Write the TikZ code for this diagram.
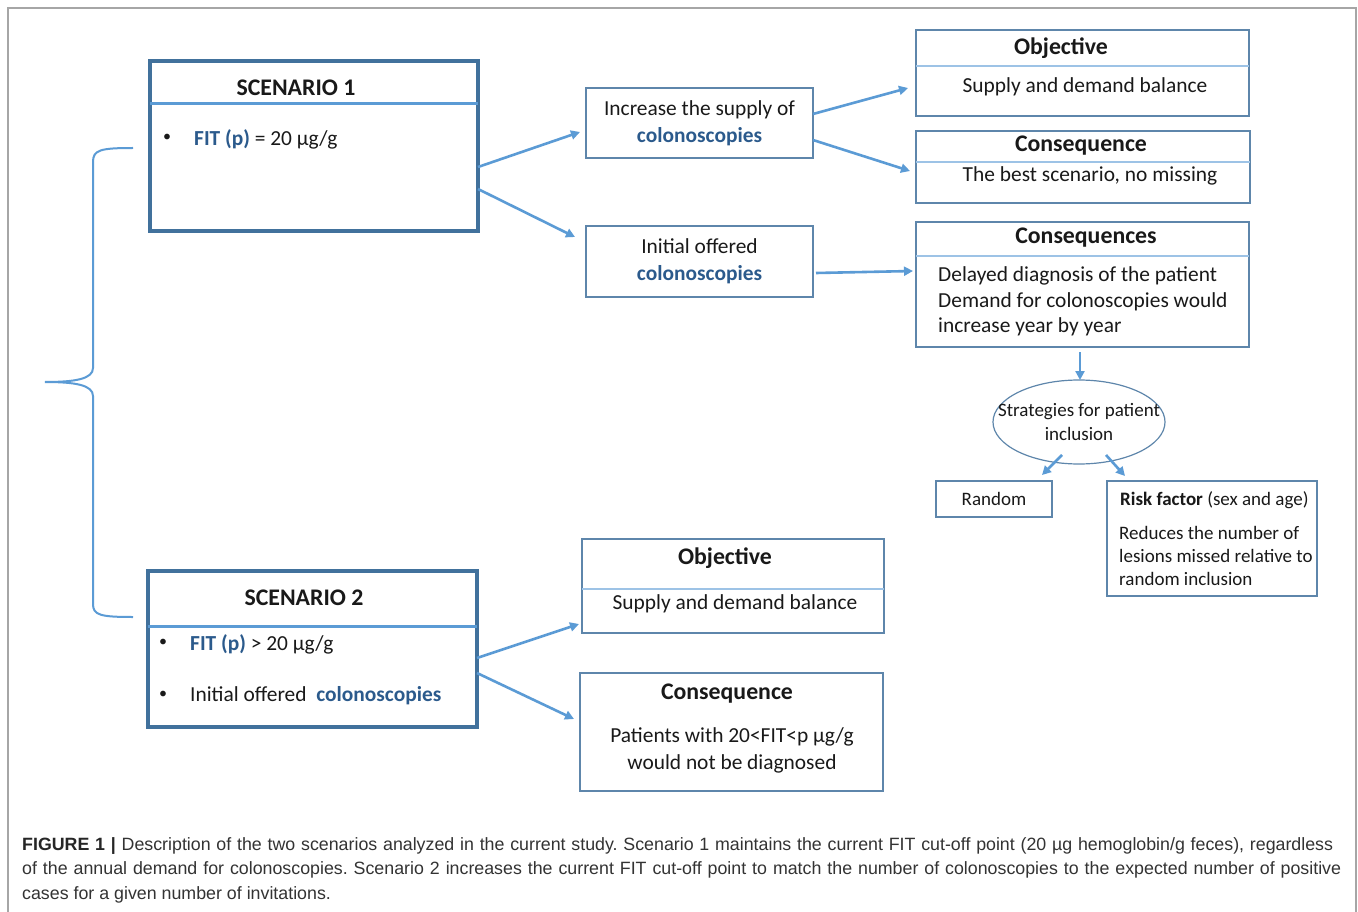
\documentclass[tikz,border=0pt]{standalone}
\usepackage{fontspec}
\setmainfont{Carlito}
\newfontfamily\capfont{Liberation Sans}
\usetikzlibrary{shapes.geometric,arrows.meta,calc}
\definecolor{dkblue}{HTML}{41719C}
\definecolor{ltblue}{HTML}{5B9BD5}
\definecolor{txtblue}{HTML}{2B5A8C}
\definecolor{sepblue}{HTML}{9DC3E6}
\definecolor{capgray}{HTML}{333333}
\frenchspacing
\begin{document}
\begin{tikzpicture}[x=1pt,y=-1pt,
  scen/.style={draw=dkblue, line width=3.5pt, anchor=north west, inner sep=0, outer sep=0},
  tbox/.style={draw=dkblue!85, line width=1.2pt, anchor=north west, inner sep=0, outer sep=0},
  scensep/.style={draw=ltblue, line width=3pt},
  boxsep/.style={draw=sepblue, line width=1.5pt},
  arr/.style={draw=ltblue, line width=2.6pt, -{Triangle[length=9pt,width=9pt]}},
  txt/.style={font=\fontsize{21.4}{27}\selectfont, inner sep=0, text=black!90},
  smtxt/.style={font=\fontsize{19}{24}\selectfont, inner sep=0, text=black!90},
  bul/.style={font=\fontsize{16}{16}\selectfont, inner sep=0, text=black!90, anchor=center},
  ttl/.style={font=\fontsize{23.8}{27}\selectfont\bfseries, inner sep=0, text=black!90},
  captext/.style={font=\capfont\fontsize{17.8}{24}\selectfont, inner sep=0, anchor=base west, text=capgray},
  brace/.style={draw=ltblue, line width=2pt},
]
\useasboundingbox (0,0) rectangle (1358,912);
\fill[white] (0,0) rectangle (1358,912);
% outer frame
\draw[gray!70, line width=1.5pt] (8,930) -- (8,8) -- (1356,8) -- (1356,930);

% Scenario 1
\node[scen, minimum width=328pt, minimum height=170pt] (s1) at (150,61) {};
\draw[scensep] (s1.west |- 0,104) -- (s1.east |- 0,104);
\node[ttl] (s1t) at (296,88) {SCENARIO 1};
\node[bul] (s1b) at (167,138) {\textbullet};
\node[txt, anchor=west] (s1a) at (194,139) {{\bfseries\color{txtblue}FIT (p)} = 20 µg/g};

% Scenario 2
\node[scen, minimum width=329pt, minimum height=156pt] (s2) at (148,571) {};
\draw[scensep] (s2.west |- 0,626) -- (s2.east |- 0,626);
\node[ttl] (s2t) at (304,598) {SCENARIO 2};
\node[bul] (s2b1) at (163,643) {\textbullet};
\node[txt, anchor=west] (s2a) at (190,644) {{\bfseries\color{txtblue}FIT (p)} > 20 µg/g};
\node[bul] (s2b2) at (163,695) {\textbullet};
\node[txt, anchor=west] (s2c) at (190,696) {Initial offered \ {\bfseries\color{txtblue}colonoscopies}};

% middle boxes
\node[tbox, minimum width=227pt, minimum height=70pt] (inc) at (586,88) {};
\node[txt, align=center] at (inc.center) {Increase the supply of\\[0pt]{\bfseries\color{txtblue}colonoscopies}};
\node[tbox, minimum width=227pt, minimum height=71pt] (ini) at (586,226) {};
\node[txt, align=center] at (ini.center) {Initial offered\\[0pt]{\bfseries\color{txtblue}colonoscopies}};

% Objective 1
\node[tbox, minimum width=333pt, minimum height=86pt] (obj1) at (916,30) {};
\draw[boxsep] (obj1.west |- 0,66) -- (obj1.east |- 0,66);
\node[ttl] at (1061,48) {Objective};
\node[txt] at (1085,87) {Supply and demand balance};

% Consequence 1
\node[tbox, minimum width=334pt, minimum height=72pt] (cons1) at (916,131) {};
\draw[boxsep] (cons1.west |- 0,162) -- (cons1.east |- 0,162);
\node[ttl] at (1081,146) {Consequence};
\node[txt] at (1090,176) {The best scenario, no missing};

% Consequences 2
\node[tbox, minimum width=333pt, minimum height=125pt] (cons2) at (916,222) {};
\draw[boxsep] (cons2.west |- 0,256) -- (cons2.east |- 0,256);
\node[ttl] at (1086,238) {Consequences};
\node[txt, anchor=west] at (938,276) {Delayed diagnosis of the patient};
\node[txt, anchor=west] at (938,302) {Demand for colonoscopies would};
\node[txt, anchor=west] at (938,327) {increase year by year};

% Strategies
\node[draw=dkblue!85, line width=1.2pt, ellipse, minimum width=172pt, minimum height=84pt, inner sep=0, outer sep=0] (ell) at (1079,422) {};
\node[smtxt, align=center] (ellt) at (1079,422) {Strategies for patient\\inclusion};
\node[tbox, minimum width=116pt, minimum height=36pt] (rnd) at (936,481) {};
\node[smtxt] at (rnd.center) {Random};
\node[tbox, minimum width=210pt, minimum height=115pt] (risk) at (1107,481) {};
\node[smtxt, anchor=west] at (1120,500) {\textbf{Risk factor} (sex and age)};
\node[smtxt, anchor=west] at (1119,533) {Reduces the number of};
\node[smtxt, anchor=west] at (1119,556) {lesions missed relative to};
\node[smtxt, anchor=west] at (1119,579) {random inclusion};

% Scenario 2 boxes
\node[tbox, minimum width=302pt, minimum height=94pt] (obj2) at (582,539) {};
\draw[boxsep] (obj2.west |- 0,589) -- (obj2.east |- 0,589);
\node[ttl] at (725,558) {Objective};
\node[txt] at (735,604) {Supply and demand balance};
\node[tbox, minimum width=303pt, minimum height=118pt] (cons3) at (580,673) {};
\node[ttl] at (727,694) {Consequence};
\node[txt, align=center] at (732,750) {Patients with 20<FIT<p µg/g\\would not be diagnosed};

% arrows
\draw[arr] ([yshift=-21pt]s1.east) -- ([xshift=-6pt,yshift=-9pt]inc.west);
\draw[arr] ([yshift=-43pt]s1.east) -- ([xshift=-11pt,yshift=24.5pt]ini.west);
\draw[arr] ([yshift=9pt]inc.east) -- ([xshift=-8pt,yshift=-15pt]obj1.west);
\draw[arr] ([yshift=-17pt]inc.east) -- ([xshift=-6pt,yshift=-4pt]cons1.west);
\draw[arr] ([xshift=3pt,yshift=-11.5pt]ini.east) -- ([xshift=-3pt,yshift=13.5pt]cons2.west);
\draw[arr] ([xshift=-2.5pt,yshift=-5pt]cons2.south) -- ([xshift=1pt]ell.north);
\draw[arr] ([xshift=-17pt,yshift=9pt]ell.south) -- ([xshift=48pt,yshift=6pt]rnd.north);
\draw[arr] ([xshift=27pt,yshift=9pt]ell.south) -- ([xshift=-87pt,yshift=5pt]risk.north);
\draw[arr] ([yshift=-9pt]s2.east) -- ([xshift=-3pt,yshift=-38pt]obj2.west);
\draw[arr] ([yshift=-24pt]s2.east) -- ([xshift=-6pt,yshift=13pt]cons3.west);

% brace
\draw[brace] (133,148) .. controls (100,148) and (93,150) .. (93,162) -- (93,368)
  .. controls (93,379) and (75,382) .. (45,382)
  .. controls (75,382) and (93,385) .. (93,396) -- (93,604)
  .. controls (93,615) and (100,617) .. (133,617);

% caption
\node[captext] (c1) at (22,850) {\makebox[1311pt][s]{{\bfseries\color{black!85}FIGURE 1 |} Description of the two scenarios analyzed in the current study. Scenario 1 maintains the current FIT cut-off point (20 µg hemoglobin/g feces), regardless}};
\node[captext] (c2) at (22,874) {\makebox[1319pt][s]{of the annual demand for colonoscopies. Scenario 2 increases the current FIT cut-off point to match the number of colonoscopies to the expected number of positive}};
\node[captext] (c3) at (22,899) {cases for a given number of invitations.};
\end{tikzpicture}
\end{document}
